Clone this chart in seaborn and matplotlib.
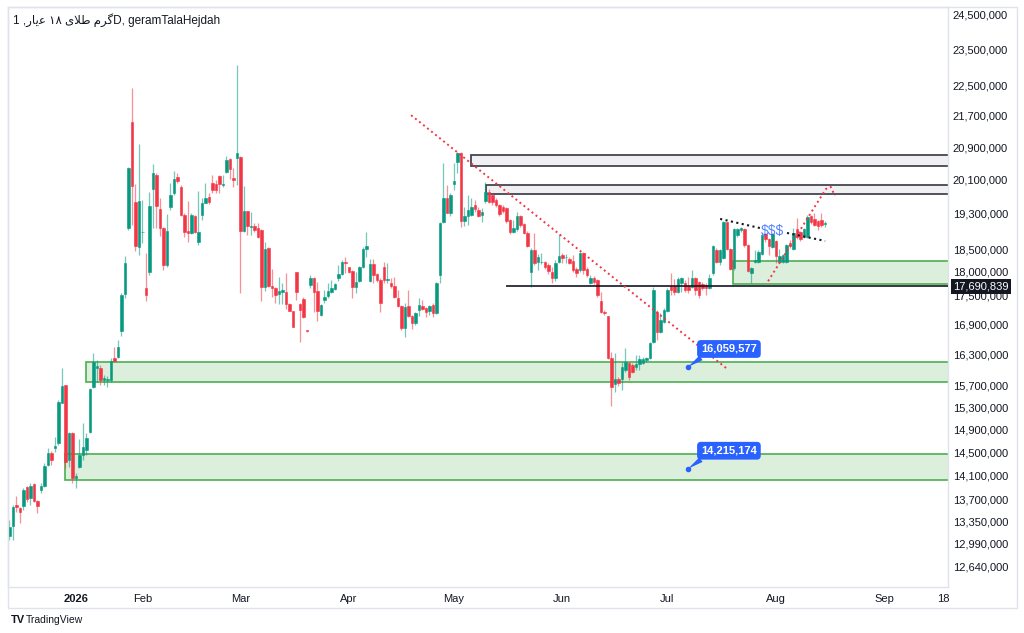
import numpy as np
import pandas as pd
import matplotlib
matplotlib.use("Agg")
import matplotlib.pyplot as plt
import matplotlib.colors as mcolors
import matplotlib.transforms as mtransforms
from matplotlib.patches import Rectangle
from matplotlib.ticker import FixedLocator, NullLocator, FuncFormatter
import seaborn as sns

# daily candles, prices in millions
open_m = [13.11, 13.27, 13.61, 13.57, 13.60, 13.91, 13.73, 13.96, 13.68, 13.86,
          13.93, 14.28, 14.49, 14.57, 14.66, 15.38, 15.72, 14.37, 14.84, 14.06,
          14.25, 14.45, 14.54, 14.86, 15.68, 16.04, 16.04, 15.81, 15.82, 15.81,
          16.24, 16.26, 16.77, 17.53, 18.97, 21.54, 19.57, 18.55, 18.87, 17.66,
          18.00, 19.88, 20.22, 19.41, 18.97, 18.15, 19.46, 19.79, 20.17, 19.93,
          19.27, 18.90, 18.86, 19.25, 18.66, 19.27, 19.55, 19.69, 20.02, 20.00,
          20.19, 19.98, 20.29, 20.61, 20.14, 20.63, 20.66, 18.90, 19.36, 19.00,
          19.02, 18.97, 18.93, 17.68, 18.52, 17.70, 17.66, 17.53, 17.57, 17.57,
          17.32, 17.18, 18.00, 17.32, 17.43, 16.78, 17.72, 17.87, 17.59, 17.09,
          17.40, 17.49, 17.57, 17.63, 17.87, 17.96, 18.21, 18.10, 18.02, 17.68,
          17.80, 18.10, 18.50, 17.80, 18.17, 17.96, 17.83, 18.10, 17.83, 17.76,
          17.70, 17.45, 17.28, 16.83, 17.28, 17.07, 16.93, 17.20, 17.28, 17.24,
          17.18, 17.30, 17.13, 17.93, 19.11, 19.67, 19.32, 20.00, 20.54, 20.76,
          19.13, 19.25, 19.27, 19.50, 19.39, 19.27, 19.60, 19.81, 19.74, 19.62,
          19.50, 19.46, 19.43, 19.16, 18.88, 18.95, 19.25, 19.06, 18.86, 18.00,
          18.48, 18.21, 18.21, 18.21, 18.15, 18.00, 17.87, 18.21, 18.37, 18.32,
          18.28, 18.24, 18.06, 18.04, 18.41, 18.06, 17.76, 17.87, 17.83, 17.38,
          17.15, 17.07, 16.23, 15.74, 15.83, 15.83, 16.00, 16.14, 16.10, 16.06,
          16.12, 16.14, 16.20, 16.23, 16.55, 17.15, 16.75, 16.95, 17.18, 17.70,
          17.70, 17.57, 17.76, 17.76, 17.70, 17.68, 17.87, 17.78, 17.74, 17.72,
          17.66, 17.98, 18.48, 18.21, 18.30, 19.11, 18.50, 18.08, 18.81, 18.93,
          18.95, 18.59, 17.98, 18.21, 18.21, 18.39, 18.84, 18.72, 18.55, 18.68,
          18.21, 18.21, 18.21, 18.63, 18.50, 18.95, 18.88, 18.77, 18.77, 19.25,
          19.18, 19.13, 19.16, 19.07]
high_m = [13.37, 13.61, 13.76, 13.58, 13.89, 13.93, 13.98, 13.98, 13.69, 13.98,
          14.32, 14.57, 14.52, 14.77, 15.44, 16.04, 15.72, 14.86, 14.86, 14.14,
          14.73, 15.02, 14.84, 15.66, 16.33, 16.20, 16.10, 15.91, 15.89, 16.24,
          16.45, 16.59, 17.55, 18.35, 20.41, 22.44, 20.00, 20.98, 19.62, 18.41,
          19.81, 20.49, 20.27, 19.67, 18.99, 19.29, 20.02, 20.31, 20.27, 19.98,
          19.32, 19.60, 19.32, 19.27, 19.83, 19.67, 20.02, 19.79, 20.22, 20.10,
          20.22, 20.22, 20.68, 20.63, 20.39, 23.07, 20.68, 19.95, 19.36, 19.34,
          19.09, 19.09, 18.95, 18.66, 18.55, 18.06, 17.68, 17.89, 17.76, 17.98,
          17.34, 17.18, 18.00, 17.34, 17.47, 16.79, 17.93, 17.89, 17.78, 17.32,
          17.61, 17.76, 17.83, 17.76, 18.15, 18.26, 18.32, 18.10, 18.04, 18.00,
          18.12, 18.55, 18.88, 18.28, 18.28, 17.98, 17.87, 18.21, 18.19, 17.87,
          17.89, 17.61, 17.30, 17.34, 17.61, 17.09, 17.15, 17.45, 17.40, 17.26,
          17.30, 17.34, 17.78, 19.11, 20.51, 19.98, 19.79, 20.51, 20.78, 20.78,
          19.46, 19.74, 19.67, 19.62, 19.46, 19.43, 20.05, 19.88, 19.79, 19.67,
          19.53, 19.50, 19.46, 19.18, 19.16, 19.34, 19.27, 19.09, 18.90, 18.52,
          18.86, 18.39, 18.41, 18.24, 18.19, 18.10, 18.26, 18.84, 18.41, 18.39,
          18.32, 18.37, 18.10, 18.43, 18.43, 18.10, 17.93, 17.91, 17.85, 17.57,
          17.20, 17.07, 16.35, 16.33, 15.87, 16.16, 16.43, 16.16, 16.14, 16.29,
          16.29, 16.25, 16.25, 16.55, 17.68, 17.20, 17.13, 17.24, 17.66, 17.98,
          17.85, 17.89, 17.89, 17.83, 17.89, 18.04, 17.89, 17.80, 17.78, 17.76,
          17.96, 18.59, 18.52, 18.50, 19.13, 19.11, 18.52, 18.97, 18.97, 18.99,
          18.97, 18.61, 18.10, 18.48, 18.48, 18.86, 18.86, 18.75, 18.86, 18.70,
          18.50, 18.39, 18.61, 18.70, 18.97, 19.20, 18.90, 18.97, 19.27, 19.27,
          19.32, 19.16, 19.32, 19.13]
low_m = [13.05, 13.05, 13.50, 13.32, 13.53, 13.66, 13.61, 13.66, 13.48, 13.81,
         13.91, 14.26, 14.28, 14.50, 14.63, 15.38, 14.23, 14.25, 13.98, 13.89,
         14.23, 14.37, 14.45, 14.84, 15.66, 15.77, 15.72, 15.72, 15.68, 15.77,
         16.16, 16.24, 16.67, 17.45, 18.93, 19.04, 18.46, 18.37, 18.64, 17.38,
         17.94, 18.97, 18.97, 18.79, 18.04, 18.11, 19.39, 19.74, 20.02, 19.25,
         18.77, 18.66, 18.84, 18.86, 18.59, 19.16, 19.55, 19.53, 19.79, 19.79,
         19.79, 19.93, 20.27, 20.12, 19.93, 19.98, 17.55, 18.88, 18.81, 18.81,
         18.88, 18.75, 17.38, 17.59, 17.68, 17.47, 17.34, 17.32, 17.32, 17.22,
         17.18, 16.85, 17.40, 16.55, 17.03, 16.75, 17.66, 17.15, 16.97, 17.07,
         17.34, 17.45, 17.55, 17.61, 17.80, 17.93, 17.98, 17.98, 17.45, 17.55,
         17.78, 18.08, 18.32, 17.78, 17.76, 17.78, 17.15, 17.76, 17.76, 17.66,
         17.45, 17.26, 16.79, 16.65, 17.05, 16.81, 16.89, 17.07, 17.20, 17.05,
         17.09, 17.05, 17.11, 17.76, 19.09, 19.32, 19.25, 19.86, 20.27, 19.00,
         19.02, 19.04, 19.25, 19.34, 19.22, 19.11, 19.55, 19.55, 19.50, 19.46,
         19.25, 19.32, 19.09, 18.84, 18.86, 18.90, 19.00, 18.84, 18.55, 17.68,
         18.15, 18.04, 18.17, 18.06, 17.96, 17.76, 17.80, 18.19, 18.19, 18.19,
         18.17, 18.00, 17.89, 18.00, 17.96, 17.89, 17.74, 17.74, 17.47, 17.13,
         17.09, 16.22, 15.33, 15.59, 15.70, 15.62, 15.96, 15.81, 15.94, 16.00,
         16.00, 16.12, 16.16, 16.21, 16.53, 16.59, 16.73, 16.93, 17.15, 17.51,
         17.51, 17.55, 17.57, 17.57, 17.55, 17.66, 17.51, 17.45, 17.61, 17.51,
         17.63, 17.93, 18.19, 18.15, 18.28, 18.48, 18.04, 18.04, 18.77, 18.88,
         18.55, 18.00, 17.76, 18.19, 18.19, 18.37, 18.66, 18.37, 18.52, 18.19,
         18.19, 18.19, 18.19, 18.52, 18.48, 18.72, 18.68, 18.75, 18.75, 19.06,
         19.02, 18.93, 19.00, 19.00]
close_m = [13.26, 13.58, 13.58, 13.50, 13.86, 13.71, 13.93, 13.68, 13.60, 13.93,
           14.26, 14.49, 14.37, 14.61, 15.40, 15.70, 14.33, 14.84, 14.06, 14.09,
           14.45, 14.59, 14.75, 15.64, 16.16, 16.08, 15.81, 15.85, 15.84, 16.18,
           16.18, 16.45, 17.51, 18.19, 20.39, 19.95, 18.57, 19.60, 18.88, 17.51,
           19.48, 20.27, 19.48, 18.97, 18.15, 18.90, 19.74, 20.12, 20.07, 19.27,
           18.88, 18.86, 19.27, 18.88, 18.88, 19.55, 19.67, 19.57, 19.86, 19.86,
           20.00, 20.00, 20.58, 20.36, 20.10, 20.76, 18.90, 19.36, 19.02, 19.02,
           18.93, 18.77, 17.68, 18.50, 17.70, 17.66, 17.51, 17.59, 17.61, 17.32,
           17.18, 16.85, 17.57, 17.20, 17.05, 16.76, 17.87, 17.57, 17.18, 17.30,
           17.47, 17.59, 17.66, 17.74, 17.96, 18.21, 18.19, 18.00, 17.68, 17.78,
           18.10, 18.50, 18.57, 18.17, 17.93, 17.83, 17.34, 17.83, 17.85, 17.70,
           17.47, 17.28, 16.83, 17.26, 17.07, 16.93, 17.13, 17.30, 17.22, 17.15,
           17.28, 17.13, 17.76, 19.09, 19.67, 19.32, 19.74, 20.07, 20.76, 19.13,
           19.25, 19.39, 19.46, 19.41, 19.25, 19.34, 19.81, 19.57, 19.57, 19.50,
           19.29, 19.36, 19.13, 18.88, 18.97, 19.25, 19.04, 18.86, 18.57, 18.48,
           18.19, 18.32, 18.22, 18.10, 18.02, 17.87, 18.19, 18.35, 18.30, 18.33,
           18.19, 18.04, 17.98, 18.41, 18.04, 17.93, 17.87, 17.78, 17.51, 17.15,
           17.13, 16.23, 15.68, 15.83, 15.76, 16.06, 16.16, 15.87, 15.96, 16.12,
           16.21, 16.21, 16.23, 16.53, 17.61, 16.75, 16.99, 17.20, 17.61, 17.61,
           17.57, 17.85, 17.87, 17.61, 17.61, 17.87, 17.61, 17.51, 17.66, 17.66,
           17.87, 18.57, 18.21, 18.48, 19.11, 18.50, 18.06, 18.95, 18.95, 18.97,
           18.59, 18.02, 18.08, 18.26, 18.43, 18.81, 18.72, 18.57, 18.84, 18.35,
           18.35, 18.37, 18.59, 18.57, 18.86, 18.77, 18.72, 18.95, 19.22, 19.11,
           19.04, 19.02, 19.04, 19.09]

# x axis (bar index) labels
tick_pos = [19, 38, 66, 97, 127, 158, 188, 219, 250, 267]
tick_labels = ["2026", "Feb", "Mar", "Apr", "May", "Jun", "Jul", "Aug", "Sep", "18"]

# right price scale
price_ticks_m = [24.5, 23.5, 22.5, 21.7, 20.9, 20.1, 19.3, 18.5, 18.0, 17.5, 16.9,
                 16.3, 15.7, 15.3, 14.9, 14.5, 14.1, 13.7, 13.35, 12.99, 12.64]

# drawings: zones (start bar, low, high) in millions
green_start = [15.9, 21.9, 206.9]
green_low = [14.03, 15.77, 17.74]
green_high = [14.47, 16.16, 18.24]
gray_start = [131.9, 136.2]
gray_low = [20.43, 19.77]
gray_high = [20.70, 19.98]

level_start = 141.9
level_price = 17_690_839

fall_x = [114.8, 204.8]
fall_y = [21.72, 16.04]
rise_x = [216.8, 233.3, 234.7, 235.9]
rise_y = [17.80, 19.88, 19.93, 19.72]
wedge_a_x, wedge_a_y = [203.1, 214.5], [19.18, 18.97]
wedge_b_x, wedge_b_y = [222.2, 233.1], [18.86, 18.68]

note_x = [193.9, 193.9]
note_price = [16_059_577, 14_215_174]

# title is stored in visual order with Arabic presentation forms,
# since matplotlib does no bidi / shaping on its own
title = ("1 ,\uFEAD\uFE8E\uFBFE\uFECB \u06F1\u06F8 \uFBFC\uFEFC\uFEC3 "
         "\uFEE1\uFEAE\uFB94D, geramTalaHejdah")

sns.set_style("white")
plt.rcParams["font.family"] = ["Liberation Sans", "DejaVu Sans"]

UP, DOWN = "#089981", "#f23645"
TXT = "#131722"
GRID = "#e0e3eb"

df = pd.DataFrame({"o": open_m, "h": high_m, "l": low_m, "c": close_m}) * 1e6
df["i"] = np.arange(len(df))
up = df["c"] >= df["o"]
body_col = np.where(up, UP, DOWN)
wick_col = [mcolors.to_rgba(c, 0.55) for c in body_col]

fig = plt.figure(figsize=(10.24, 6.33), dpi=100)
W, H = 1024, 633
ax = fig.add_axes([8 / W, 1 - 587 / H, 940 / W, 580 / H])
ax.set_yscale("log")
ax.set_xlim(-0.37, 268.2)
ax.set_ylim(12.337e6, 24.727e6)

# zones
for x0, lo, hi in zip(green_start, green_low, green_high):
    ax.add_patch(Rectangle((x0, lo * 1e6), 400, (hi - lo) * 1e6,
                           fc=(76 / 255, 175 / 255, 80 / 255, 0.2),
                           ec="#4caf50", lw=1.2, zorder=1))
for x0, lo, hi in zip(gray_start, gray_low, gray_high):
    ax.add_patch(Rectangle((x0, lo * 1e6), 400, (hi - lo) * 1e6,
                           fc="#f0f0f3", ec="#434651", lw=1.3, zorder=1))

# candles
ax.vlines(df["i"], df["l"], df["h"], colors=wick_col, lw=0.9, zorder=3)
ax.bar(df["i"], df["c"] - df["o"], bottom=df["o"], width=0.72,
       color=body_col, edgecolor=body_col, linewidth=0.4, zorder=4)

# key level
ax.hlines(level_price, level_start, 300, color=TXT, lw=1.2, zorder=5)

# trend lines
sns.lineplot(x=fall_x, y=np.array(fall_y) * 1e6, ax=ax, color=DOWN,
             linestyle=":", lw=1.4, zorder=6)
sns.lineplot(x=rise_x, y=np.array(rise_y) * 1e6, ax=ax, color=DOWN,
             linestyle=":", lw=1.4, zorder=6, sort=False)
for xs, ys in [(wedge_a_x, wedge_a_y), (wedge_b_x, wedge_b_y)]:
    sns.lineplot(x=xs, y=np.array(ys) * 1e6, ax=ax, color=TXT,
                 linestyle=":", lw=1.5, zorder=6)
ax.text(217.9, 18.90e6, "$$$", color="#2962ff", fontsize=10, ha="center",
        va="center", zorder=7, alpha=0.8)

# price notes
for nx, npx in zip(note_x, note_price):
    ax.annotate(f"{npx:,}", xy=(nx, npx), xytext=(29.5, 13), textcoords="offset points",
                ha="center", va="center", color="white", fontsize=8, fontweight="bold",
                bbox=dict(boxstyle="round,pad=0.35,rounding_size=0.35", fc="#2962ff", ec="none"),
                arrowprops=dict(arrowstyle="wedge,tail_width=0.5", fc="#2962ff", ec="none",
                                shrinkA=0, shrinkB=0, relpos=(0.15, 0.2)),
                zorder=8)
    ax.plot(nx, npx, "o", ms=3, color="#2962ff", zorder=8)

# axes styling
ax.yaxis.tick_right()
ax.yaxis.set_major_locator(FixedLocator([v * 1e6 for v in price_ticks_m]))
ax.yaxis.set_minor_locator(NullLocator())
ax.yaxis.set_major_formatter(FuncFormatter(lambda v, p: f"{v:,.0f}"))
ax.tick_params(axis="y", length=0, pad=3.5, labelsize=8, labelcolor=TXT)
ax.set_xticks(tick_pos, tick_labels)
ax.tick_params(axis="x", length=0, pad=5, labelsize=8, labelcolor=TXT)
ax.get_xticklabels()[0].set_fontweight("bold")
for s in ax.spines.values():
    s.set_color(GRID)
    s.set_linewidth(1)
ax.grid(False)

# last-level label on the price scale
blend = mtransforms.blended_transform_factory(ax.transAxes, ax.transData)
ax.text(1.0 + 5 / 940, level_price, "17,690,839", transform=blend, ha="left", va="center",
        color="white", fontsize=8, clip_on=False, zorder=10,
        bbox=dict(boxstyle="square,pad=0.2", fc=TXT, ec="none"))

# outer frame, title, footer
fig.patches.append(Rectangle((8 / W, 1 - 608 / H), 1009 / W, 601 / H, transform=fig.transFigure,
                             fill=False, ec=GRID, lw=1))
fig.text(13 / W, 1 - 20 / H, title, fontsize=8.5, color=TXT, va="center", ha="left")
fig.text(11 / W, 1 - 620 / H, "TV", fontsize=8, fontweight="bold", color=TXT, va="center")
fig.text(26 / W, 1 - 620 / H, "TradingView", fontsize=7.5, color=TXT, va="center")

fig.savefig("out.png", dpi=100)
